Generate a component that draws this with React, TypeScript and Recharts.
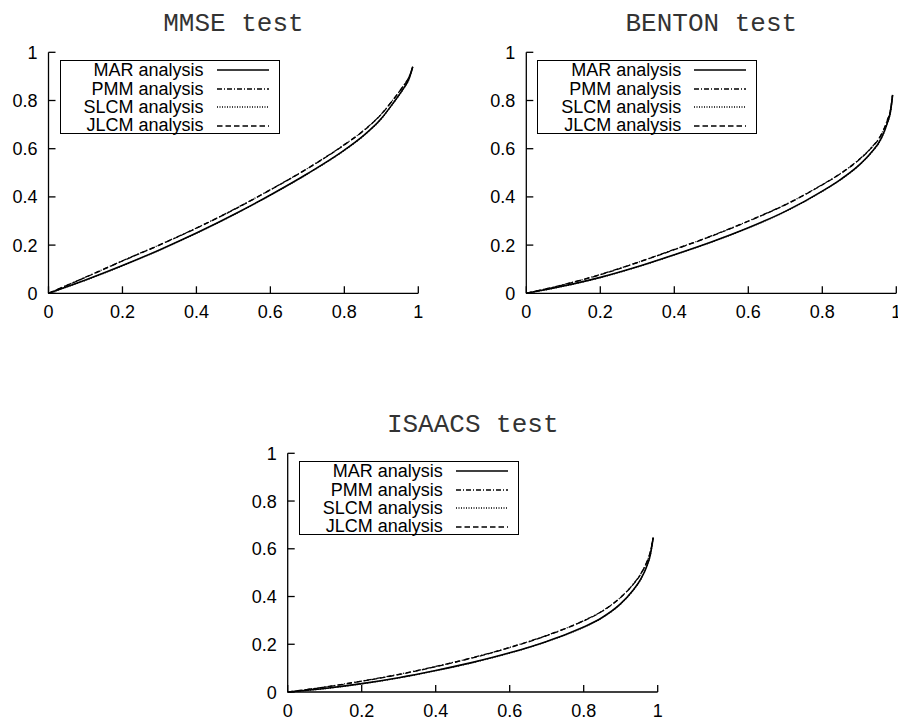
import React from "react";
import { LineChart, Line, XAxis, YAxis, Legend } from "recharts";

// axis ticks shared by all three panels
const axisTicks = [0, 0.2, 0.4, 0.6, 0.8, 1];

const seriesNames = ["MAR analysis", "PMM analysis", "SLCM analysis", "JLCM analysis"];
const seriesKeys = ["mar", "pmm", "slcm", "jlcm"];
const seriesDash = ["", "5 2 1 2", "1 1.5", "5.5 3"];

// MMSE test
const xMMSE = [0, 0.1, 0.2, 0.3, 0.4, 0.5, 0.6, 0.7, 0.8, 0.85, 0.9, 0.93, 0.96, 0.975, 0.985];
const marMMSE = [0, 0.055, 0.115, 0.18, 0.25, 0.326, 0.408, 0.496, 0.594, 0.652, 0.725, 0.785, 0.85, 0.89, 0.94];
const pmmMMSE = [0, 0.067, 0.135, 0.201, 0.271, 0.347, 0.43, 0.518, 0.617, 0.673, 0.744, 0.8, 0.862, 0.898, 0.94];
const slcmMMSE = [0, 0.054, 0.114, 0.179, 0.249, 0.325, 0.407, 0.495, 0.593, 0.651, 0.724, 0.784, 0.849, 0.889, 0.94];
const jlcmMMSE = [0, 0.066, 0.134, 0.2, 0.27, 0.346, 0.429, 0.517, 0.616, 0.672, 0.743, 0.799, 0.861, 0.897, 0.94];

// BENTON test
const xBENTON = [0, 0.1, 0.2, 0.3, 0.4, 0.5, 0.6, 0.7, 0.8, 0.85, 0.9, 0.93, 0.96, 0.975, 0.985, 0.99];
const marBENTON = [0, 0.03, 0.066, 0.11, 0.16, 0.213, 0.272, 0.34, 0.424, 0.473, 0.533, 0.58, 0.645, 0.703, 0.76, 0.823];
const pmmBENTON = [0, 0.036, 0.078, 0.128, 0.182, 0.238, 0.3, 0.368, 0.451, 0.498, 0.556, 0.6, 0.661, 0.715, 0.768, 0.823];
const slcmBENTON = [0, 0.029, 0.065, 0.109, 0.159, 0.212, 0.271, 0.339, 0.423, 0.472, 0.532, 0.579, 0.644, 0.702, 0.759, 0.823];
const jlcmBENTON = [0, 0.035, 0.077, 0.127, 0.181, 0.237, 0.299, 0.367, 0.45, 0.497, 0.555, 0.599, 0.66, 0.714, 0.767, 0.823];

// ISAACS test
const xISAACS = [0, 0.1, 0.2, 0.3, 0.4, 0.5, 0.6, 0.7, 0.75, 0.8, 0.85, 0.9, 0.93, 0.955, 0.97, 0.98, 0.988];
const marISAACS = [0, 0.015, 0.035, 0.06, 0.09, 0.124, 0.164, 0.212, 0.24, 0.272, 0.312, 0.37, 0.42, 0.475, 0.525, 0.575, 0.647];
const pmmISAACS = [0, 0.021, 0.046, 0.074, 0.107, 0.144, 0.187, 0.237, 0.266, 0.299, 0.339, 0.397, 0.445, 0.497, 0.543, 0.587, 0.647];
const slcmISAACS = [0, 0.014, 0.034, 0.059, 0.089, 0.123, 0.163, 0.211, 0.239, 0.271, 0.311, 0.369, 0.419, 0.474, 0.524, 0.574, 0.647];
const jlcmISAACS = [0, 0.02, 0.045, 0.073, 0.106, 0.143, 0.186, 0.236, 0.265, 0.298, 0.338, 0.396, 0.444, 0.496, 0.542, 0.586, 0.647];

const buildRows = (xs: number[], mar: number[], pmm: number[], slcm: number[], jlcm: number[]) =>
  xs.map((x, i) => ({ x, mar: mar[i], pmm: pmm[i], slcm: slcm[i], jlcm: jlcm[i] }));

const tickFont = "'Liberation Sans', Arial, Helvetica, sans-serif";

const XTick = (props: any) => {
  const { x, y, payload } = props;
  return (
    <g>
      <line x1={x} y1={y} x2={x} y2={y - 7} stroke="#000" strokeWidth={1.3} />
      <text x={x} y={y + 25} textAnchor="middle" fontSize={18} fontFamily={tickFont} fill="#000">
        {String(payload.value)}
      </text>
    </g>
  );
};

const YTick = (props: any) => {
  const { x, y, payload } = props;
  return (
    <g>
      <line x1={x} y1={y} x2={x + 7} y2={y} stroke="#000" strokeWidth={1.3} />
      <text x={x - 11} y={y + 6.5} textAnchor="end" fontSize={18} fontFamily={tickFont} fill="#000">
        {String(payload.value)}
      </text>
    </g>
  );
};

const LegendBox = () => (
  <div
    style={{
      width: 220,
      height: 74,
      boxSizing: "border-box",
      border: "1.4px solid #000",
      background: "#fff",
      fontFamily: tickFont,
      fontSize: 18,
      color: "#000",
    }}
  >
    {seriesNames.map((name, i) => (
      <div key={name} style={{ display: "flex", alignItems: "center", height: 18.4, lineHeight: "18.4px" }}>
        <span style={{ width: 143, textAlign: "right", display: "inline-block" }}>{name}</span>
        <svg width={66} height={18} style={{ display: "block" }}>
          <line x1={13} y1={9} x2={65} y2={9} stroke="#000" strokeWidth={1.4} strokeDasharray={seriesDash[i]} />
        </svg>
      </div>
    ))}
  </div>
);

type PanelProps = {
  title: string;
  rows: any[];
  left: number;
  top: number;
  width: number;
  height: number;
  margin: { top: number; right: number; bottom: number; left: number };
  yAxisWidth: number;
};

const Panel = ({ title, rows, left, top, width, height, margin, yAxisWidth }: PanelProps) => {
  const plotLeft = margin.left + yAxisWidth;
  const plotRight = width - margin.right;
  const centre = (plotLeft + plotRight) / 2;
  return (
    <div style={{ position: "absolute", left, top, width, height }}>
      <LineChart width={width} height={height} data={rows} margin={margin}>
        <text
          x={centre}
          y={margin.top - 21.5}
          textAnchor="middle"
          fontSize={26}
          fontFamily="'Liberation Mono', 'Courier New', monospace"
          fill="#333"
        >
          {title}
        </text>
        <XAxis
          dataKey="x"
          type="number"
          domain={[0, 1]}
          ticks={axisTicks}
          tickSize={0}
          tickMargin={0}
          tickLine={false}
          tick={<XTick />}
          axisLine={{ stroke: "#000", strokeWidth: 1.3 }}
          height={30}
          interval={0}
        />
        <YAxis
          type="number"
          domain={[0, 1]}
          ticks={axisTicks}
          tickSize={0}
          tickMargin={0}
          tickLine={false}
          tick={<YTick />}
          axisLine={{ stroke: "#000", strokeWidth: 1.3 }}
          width={yAxisWidth}
          interval={0}
        />
        <Legend
          layout="horizontal"
          align="center"
          verticalAlign="middle"
          content={<LegendBox />}
          wrapperStyle={{ left: plotLeft + 11, top: margin.top + 8, width: 220, height: 74 }}
        />
        {seriesKeys.map((k, i) => (
          <Line
            key={k}
            type="monotone"
            dataKey={k}
            name={seriesNames[i]}
            stroke="#000"
            strokeWidth={i === 0 ? 1.6 : 1.3}
            strokeDasharray={seriesDash[i]}
            dot={false}
            activeDot={false}
            isAnimationActive={false}
          />
        ))}
      </LineChart>
    </div>
  );
};

export default function App() {
  return (
    <div style={{ position: "absolute", left: 0, top: 0, width: 898, height: 722, background: "#fff" }}>
      <Panel
        title="MMSE test"
        rows={buildRows(xMMSE, marMMSE, pmmMMSE, slcmMMSE, jlcmMMSE)}
        left={0}
        top={0}
        width={449}
        height={330}
        margin={{ top: 52.3, right: 30.7, bottom: 6.7, left: 0 }}
        yAxisWidth={48.5}
      />
      <Panel
        title="BENTON test"
        rows={buildRows(xBENTON, marBENTON, pmmBENTON, slcmBENTON, jlcmBENTON)}
        left={449}
        top={0}
        width={449}
        height={330}
        margin={{ top: 52.3, right: 1.7, bottom: 6.7, left: 0 }}
        yAxisWidth={77.3}
      />
      <Panel
        title="ISAACS test"
        rows={buildRows(xISAACS, marISAACS, pmmISAACS, slcmISAACS, jlcmISAACS)}
        left={200}
        top={400}
        width={500}
        height={322}
        margin={{ top: 53.3, right: 42.3, bottom: 0, left: 0 }}
        yAxisWidth={87.7}
      />
    </div>
  );
}
